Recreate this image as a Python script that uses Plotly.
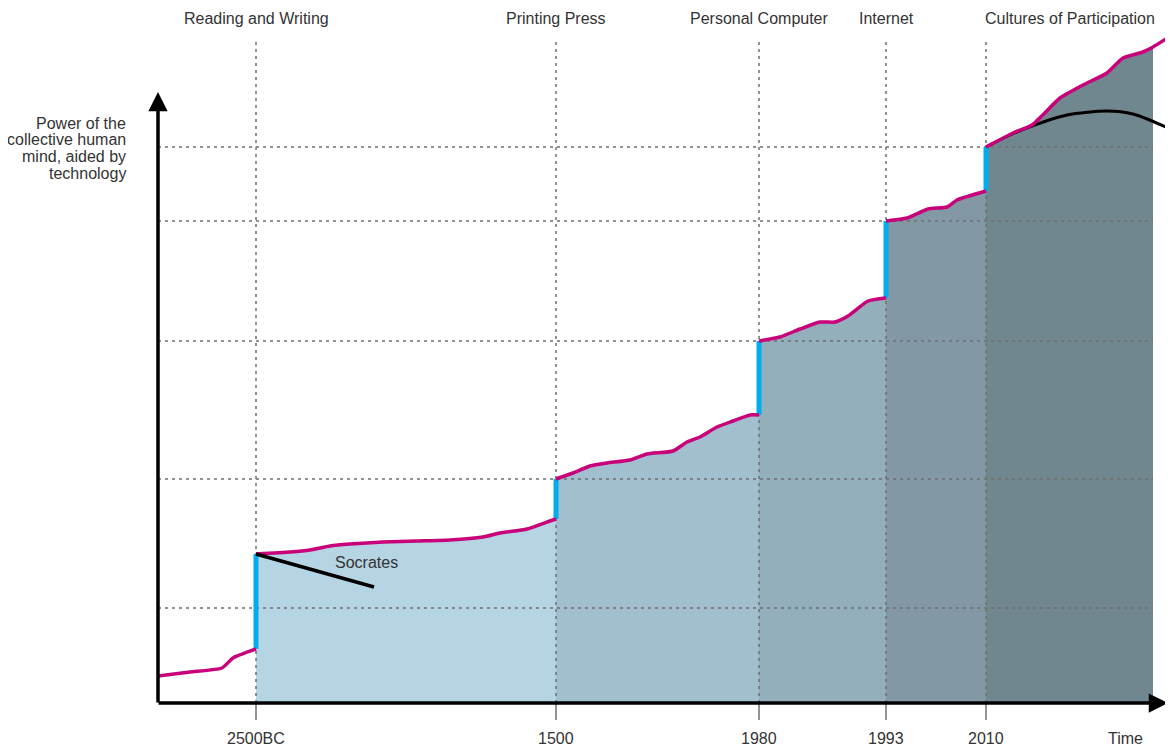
import plotly.graph_objects as go

# ---- data (abstract units: x = time position, y = power) ----
era_labels = ["Reading and Writing", "Printing Press", "Personal Computer", "Internet", "Cultures of Participation"]
tick_labels = ["2500BC", "1500", "1980", "1993", "2010"]
era_x = [98, 398, 601, 728, 828]
fill_end = 995
grid_levels = [556, 482, 362, 224, 95]
y_title_lines = ["Power of the", "collective human", "mind, aided by", "technology"]

seg0_x = [0, 32, 64, 75, 98]
seg0_y = [27, 31, 35, 45, 54]
seg1_x = [98, 132, 152, 172, 192, 225, 259, 292, 325, 342, 369, 392, 398]
seg1_y = [149, 151, 153, 157, 159, 161, 162, 163, 166, 170, 174, 182, 184]
seg2_x = [398, 415, 432, 449, 472, 489, 515, 529, 542, 559, 575, 592, 601]
seg2_y = [224, 230, 237, 240, 243, 249, 252, 261, 266, 276, 282, 288, 288]
seg3_x = [601, 622, 642, 662, 677, 690, 710, 728]
seg3_y = [362, 366, 374, 381, 381, 387, 402, 405]
seg4_x = [728, 749, 770, 789, 799, 828]
seg4_y = [482, 485, 494, 496, 503, 512]
seg5_x = [828, 855, 874, 902, 925, 949, 965, 985, 995, 1014]
seg5_y = [556, 570, 578, 605, 618, 630, 645, 651, 656, 668]

plateau_x = [828, 852, 874, 909, 949, 975, 1010]
plateau_y = [556, 568, 577, 588, 592, 589, 575]

socrates_x = [98, 216]
socrates_y = [149, 116]

fill_colors = ["#b5d4e4", "#a2bfcf", "#93afbc", "#8299a5", "#71878f"]

PINK = "#c8007a"
BLUE = "#00aeef"
GREY = "#6f6f6f"
TXT = "#333333"
FONT = "Liberation Sans, Arial, Helvetica, sans-serif"
FS = 16

fig = go.Figure()

segs = [(seg1_x, seg1_y), (seg2_x, seg2_y), (seg3_x, seg3_y), (seg4_x, seg4_y), (seg5_x, seg5_y)]
for i, (sx, sy) in enumerate(segs):
    px = [x for x in sx if x <= fill_end]
    py = sy[:len(px)]
    fx = [px[0]] + px + [px[-1], px[0]]
    fy = [0] + py + [0, 0]
    fig.add_trace(go.Scatter(x=fx, y=fy, fill="toself", fillcolor=fill_colors[i],
                             mode="none", hoverinfo="skip", showlegend=False))

# grid lines (horizontal dashed)
for g in grid_levels:
    fig.add_trace(go.Scatter(x=[0, fill_end], y=[g, g], mode="lines",
                             line=dict(color=GREY, width=1.5, dash="3px,4px"),
                             hoverinfo="skip", showlegend=False))
# vertical dashed era lines
for ex in era_x:
    fig.add_trace(go.Scatter(x=[ex, ex], y=[0, 664], mode="lines",
                             line=dict(color=GREY, width=1.5, dash="3px,4px"),
                             hoverinfo="skip", showlegend=False))
    fig.add_trace(go.Scatter(x=[ex, ex], y=[0, -17], mode="lines",
                             line=dict(color=GREY, width=1.5),
                             hoverinfo="skip", showlegend=False))

# blue jumps
all_segs = [(seg0_x, seg0_y)] + segs
for i in range(len(all_segs) - 1):
    ax_, ay_ = all_segs[i]
    bx_, by_ = all_segs[i + 1]
    fig.add_trace(go.Scatter(x=[ax_[-1], bx_[0]], y=[ay_[-1], by_[0]], mode="lines",
                             line=dict(color=BLUE, width=5),
                             hoverinfo="skip", showlegend=False))

# plateau (black)
fig.add_trace(go.Scatter(x=plateau_x, y=plateau_y, mode="lines",
                         line=dict(color="black", width=3, shape="spline", smoothing=0.8),
                         hoverinfo="skip", showlegend=False))

# pink curve
for sx, sy in all_segs:
    fig.add_trace(go.Scatter(x=sx, y=sy, mode="lines",
                             line=dict(color=PINK, width=3.5, shape="spline", smoothing=0.5),
                             hoverinfo="skip", showlegend=False))

# Socrates
fig.add_trace(go.Scatter(x=socrates_x, y=socrates_y, mode="lines",
                         line=dict(color="black", width=3.5),
                         hoverinfo="skip", showlegend=False))

annotations = []
for lab, ex in zip(era_labels, era_x):
    xx = ex if lab != "Cultures of Participation" else (ex + fill_end) / 2
    annotations.append(dict(x=xx, y=685, text=lab, showarrow=False,
                            font=dict(size=FS, color=TXT, family=FONT)))
for lab, ex in zip(tick_labels, era_x):
    annotations.append(dict(x=ex, y=-35, text=lab, showarrow=False,
                            font=dict(size=FS, color=TXT, family=FONT)))
annotations.append(dict(x=967, y=-35, text="Time", showarrow=False,
                        font=dict(size=FS, color=TXT, family=FONT)))
annotations.append(dict(x=208, y=141, text="Socrates", showarrow=False,
                        font=dict(size=FS, color=TXT, family=FONT)))
for k, line in enumerate(y_title_lines):
    annotations.append(dict(x=-30, y=580 - 16.7 * k, text=line,
                            showarrow=False, xanchor="right", align="right",
                            font=dict(size=FS, color=TXT, family=FONT)))
# axes arrows
annotations.append(dict(x=0, y=611, ax=0, ay=-1, axref="x", ayref="y", xref="x", yref="y",
                        text="", showarrow=True, arrowhead=2, arrowsize=1.1, arrowwidth=3.5,
                        arrowcolor="black"))
annotations.append(dict(x=1010, y=0, ax=-1, ay=0, axref="x", ayref="y", xref="x", yref="y",
                        text="", showarrow=True, arrowhead=2, arrowsize=1.1, arrowwidth=3.5,
                        arrowcolor="black"))

# page body has an 8px margin: figure occupies page pixels 8..1173 / 8..749
fig.update_layout(
    width=1165, height=741,
    margin=dict(l=0, r=0, t=0, b=0),
    paper_bgcolor="white", plot_bgcolor="white",
    xaxis=dict(range=[-150, 1015], visible=False, fixedrange=True),
    yaxis=dict(range=[-46, 695], visible=False, fixedrange=True),
    annotations=annotations,
    showlegend=False,
)

fig.write_html("out.html")
